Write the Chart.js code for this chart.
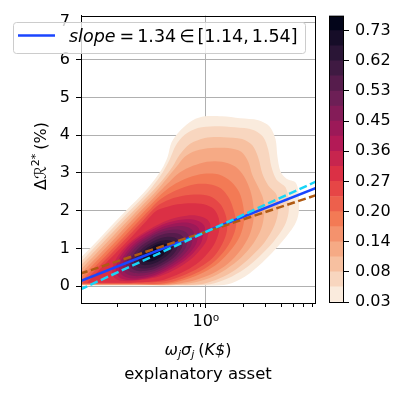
<!DOCTYPE html>
<html>
<head>
<meta charset="utf-8">
<script src="https://cdn.jsdelivr.net/npm/chart.js@4.4.1/dist/chart.umd.min.js"></script>
<style>
  html, body { margin: 0; padding: 0; background: #ffffff; }
  #wrap { position: relative; width: 408px; height: 395px; }
  #wrap canvas { position: absolute; left: 0; top: 0; }
</style>
</head>
<body>
<div id="wrap">
  <canvas id="kde" width="408" height="395"></canvas>
  <canvas id="cbar" width="408" height="395"></canvas>
</div>
<script>
// ---- values ----
const yTicks = [0, 1, 2, 3, 4, 5, 6, 7];
const xTicks = [0.2, 0.3, 0.4, 0.5, 0.6, 0.7, 0.8, 0.9, 1, 2, 3, 4, 5, 6, 7];
const xMajor = 1;

// colorbar labels (every other contour level)
const cbarLabels = ['0.03', '0.08', '0.14', '0.20', '0.27', '0.36', '0.45', '0.53', '0.62', '0.73'];
const nBands = 19;

// fitted lines, y at both ends of the x range
const fitX = [0.1, 7.45];
const fitBlue = [0.13, 2.60];
const fitBrown = [0.33, 2.41];
const fitCyan = [-0.09, 2.77];

// KDE contour outlines [x, y], outermost (0.03) -> innermost
const kde00 = [[0.0619,0.018],[0.0745,0.30],[0.100,0.73],[0.137,1.20],[0.193,1.73],[0.344,2.59],[0.445,3.09],[0.497,3.43],[0.535,3.82],[0.631,4.14],[0.787,4.40],[0.982,4.50],[1.34,4.50],[1.87,4.45],[2.61,4.40],[3.19,4.24],[3.57,3.90],[3.70,3.43],[3.91,3.04],[4.37,2.85],[5.15,2.75],[5.45,2.46],[5.45,1.94],[5.06,1.62],[3.91,1.13],[2.81,0.63],[2.05,0.26],[1.50,0.05],[1.08,0.018],[0.297,0.018]];
const kde01 = [[0.067,0.026],[0.080,0.29],[0.104,0.68],[0.123,0.94],[0.174,1.47],[0.247,1.99],[0.350,2.51],[0.437,2.93],[0.515,3.35],[0.575,3.72],[0.679,4.01],[0.863,4.19],[1.16,4.24],[1.71,4.21],[2.38,4.14],[2.86,3.95],[3.13,3.61],[3.31,3.17],[3.63,2.83],[4.29,2.62],[4.53,2.30],[4.53,1.94],[4.21,1.60],[3.44,1.18],[2.66,0.79],[2.01,0.45],[1.50,0.21],[1.08,0.05],[0.619,0.026],[0.205,0.026]];
const kde02 = [[0.072,0.031],[0.0856,0.29],[0.111,0.68],[0.132,0.94],[0.187,1.47],[0.265,1.99],[0.375,2.51],[0.461,2.85],[0.545,3.17],[0.619,3.48],[0.745,3.77],[0.982,3.93],[1.39,3.95],[1.94,3.90],[2.33,3.74],[2.61,3.40],[2.81,2.98],[3.13,2.67],[3.63,2.43],[3.77,2.04],[3.50,1.60],[2.91,1.15],[2.25,0.76],[1.74,0.45],[1.29,0.21],[0.895,0.05],[0.247,0.031]];
const kde03 = [[0.0776,0.037],[0.0915,0.29],[0.119,0.68],[0.168,1.20],[0.238,1.73],[0.337,2.25],[0.401,2.51],[0.488,2.85],[0.586,3.17],[0.679,3.43],[0.832,3.59],[1.10,3.66],[1.50,3.66],[1.91,3.56],[2.17,3.30],[2.33,2.96],[2.61,2.62],[2.86,2.30],[2.91,1.94],[2.75,1.52],[2.38,1.13],[1.91,0.76],[1.45,0.45],[1.06,0.21],[0.745,0.079],[0.429,0.037],[0.247,0.037]];
const kde04 = [[0.0836,0.045],[0.0984,0.29],[0.128,0.68],[0.181,1.20],[0.255,1.73],[0.362,2.25],[0.429,2.51],[0.515,2.77],[0.619,3.01],[0.787,3.19],[1.02,3.30],[1.34,3.30],[1.71,3.17],[2.01,2.91],[2.25,2.54],[2.38,2.15],[2.38,1.73],[2.21,1.34],[1.87,0.94],[1.50,0.60],[1.14,0.34],[0.817,0.16],[0.515,0.045],[0.247,0.045]];
const kde05 = [[0.0902,0.052],[0.106,0.29],[0.137,0.68],[0.194,1.20],[0.274,1.73],[0.388,2.25],[0.461,2.49],[0.575,2.72],[0.731,2.88],[0.964,2.98],[1.27,2.96],[1.59,2.77],[1.84,2.49],[1.98,2.12],[2.01,1.73],[1.87,1.34],[1.59,0.97],[1.27,0.63],[0.964,0.37],[0.692,0.18],[0.470,0.052],[0.247,0.052]];
const kde06 = [[0.0977,0.065],[0.113,0.29],[0.147,0.68],[0.208,1.20],[0.294,1.73],[0.350,1.99],[0.416,2.25],[0.497,2.43],[0.631,2.59],[0.817,2.70],[1.06,2.70],[1.32,2.59],[1.53,2.33],[1.67,1.99],[1.74,1.62],[1.61,1.26],[1.37,0.89],[1.10,0.58],[0.832,0.34],[0.597,0.16],[0.429,0.065],[0.247,0.065]];
const kde07 = [[0.105,0.079],[0.121,0.29],[0.157,0.68],[0.222,1.20],[0.315,1.73],[0.408,2.12],[0.515,2.30],[0.692,2.41],[0.895,2.43],[1.12,2.36],[1.32,2.15],[1.45,1.83],[1.47,1.47],[1.34,1.10],[1.14,0.76],[0.895,0.50],[0.667,0.29],[0.470,0.13],[0.247,0.079]];
const kde08 = [[0.114,0.092],[0.130,0.29],[0.168,0.68],[0.239,1.20],[0.337,1.73],[0.402,1.99],[0.479,2.09],[0.597,2.17],[0.773,2.20],[0.964,2.17],[1.16,2.04],[1.27,1.78],[1.27,1.44],[1.16,1.10],[0.982,0.79],[0.787,0.52],[0.597,0.31],[0.429,0.144],[0.247,0.092]];
const kde09 = [[1.07,1.69],[0.967,1.09],[0.555,0.42],[0.280,0.15],[0.185,0.25],[0.204,0.84],[0.357,1.51],[0.707,1.87]];
const kde10 = [[0.969,1.61],[0.886,1.07],[0.535,0.46],[0.287,0.17],[0.197,0.30],[0.215,0.85],[0.357,1.46],[0.664,1.77]];
const kde11 = [[0.879,1.53],[0.811,1.04],[0.515,0.49],[0.294,0.21],[0.209,0.35],[0.227,0.85],[0.357,1.39],[0.624,1.68]];
const kde12 = [[0.796,1.45],[0.743,1.01],[0.497,0.52],[0.301,0.27],[0.222,0.41],[0.238,0.85],[0.357,1.34],[0.587,1.59]];
const kde13 = [[0.722,1.37],[0.680,0.98],[0.479,0.55],[0.309,0.34],[0.236,0.46],[0.251,0.85],[0.357,1.28],[0.552,1.50]];
const kde14 = [[0.661,1.30],[0.630,0.96],[0.466,0.59],[0.320,0.40],[0.254,0.51],[0.267,0.85],[0.360,1.22],[0.524,1.41]];
const kde15 = [[0.605,1.22],[0.580,0.94],[0.451,0.63],[0.330,0.47],[0.272,0.56],[0.284,0.84],[0.365,1.15],[0.498,1.31]];
const kde16 = [[0.553,1.15],[0.534,0.93],[0.437,0.69],[0.340,0.56],[0.292,0.63],[0.303,0.85],[0.370,1.09],[0.474,1.22]];
const kde17 = [[0.498,1.07],[0.487,0.92],[0.423,0.74],[0.355,0.65],[0.319,0.71],[0.326,0.86],[0.375,1.04],[0.447,1.13]];
const kde18 = [[0.452,0.99],[0.445,0.91],[0.412,0.81],[0.372,0.76],[0.351,0.79],[0.356,0.87],[0.386,0.97],[0.426,1.02]];
const contours = [kde00, kde01, kde02, kde03, kde04, kde05, kde06, kde07, kde08, kde09,
                  kde10, kde11, kde12, kde13, kde14, kde15, kde16, kde17, kde18];

// ---- colours: seaborn "rocket", reversed ----
const rocketStops = [
  [0.000, [3, 5, 26]], [0.143, [53, 25, 62]], [0.286, [112, 31, 87]], [0.429, [173, 23, 89]],
  [0.571, [225, 51, 66]], [0.714, [243, 118, 81]], [0.857, [246, 180, 143]], [1.000, [250, 235, 221]]
];
function rocket(t) {
  for (let k = 1; k < rocketStops.length; k++) {
    const [t1, c1] = rocketStops[k];
    if (t <= t1) {
      const [t0, c0] = rocketStops[k - 1];
      const f = (t - t0) / (t1 - t0);
      const c = c0.map((v, j) => Math.round(v + f * (c1[j] - v)));
      return `rgb(${c[0]},${c[1]},${c[2]})`;
    }
  }
  return 'rgb(250,235,221)';
}
const bandColors = Array.from({ length: nBands }, (_, i) => rocket(1 - i / (nBands - 1)));

Chart.defaults.font.family = '"DejaVu Sans", sans-serif';
Chart.defaults.font.size = 16;
Chart.defaults.color = '#000';

const FONT = '"DejaVu Sans", sans-serif';

function drawPieces(ctx, pieces, x, y) {
  let cx = x;
  pieces.forEach(p => {
    ctx.font = p.font;
    ctx.fillText(p.t, cx, y + (p.dy || 0));
    cx += ctx.measureText(p.t).width + (p.gap || 0);
  });
}
function piecesWidth(ctx, pieces) {
  let w = 0;
  pieces.forEach(p => { ctx.font = p.font; w += ctx.measureText(p.t).width + (p.gap || 0); });
  return w;
}

const decorations = {
  id: 'decorations',
  afterDraw(chart) {
    const { ctx, chartArea: a } = chart;
    ctx.save();
    // full box around the axes
    ctx.strokeStyle = '#000';
    ctx.lineWidth = 1;
    ctx.strokeRect(Math.round(a.left) + 0.5, Math.round(a.top) + 0.5,
                   Math.round(a.right - a.left), Math.round(a.bottom - a.top));

    // legend
    ctx.beginPath();
    if (ctx.roundRect) ctx.roundRect(13.5, 22.5, 292, 31, 3); else ctx.rect(13.5, 22.5, 292, 31);
    ctx.fillStyle = 'rgba(255,255,255,0.8)';
    ctx.fill();
    ctx.strokeStyle = '#cccccc';
    ctx.stroke();
    ctx.beginPath();
    ctx.moveTo(18, 35.5); ctx.lineTo(55, 35.5);
    ctx.strokeStyle = '#1a45ff'; ctx.lineWidth = 2.5;
    ctx.stroke();
    ctx.fillStyle = '#000';
    ctx.textBaseline = 'alphabetic';
    const lf = `17.5px ${FONT}`, li = `italic 17.5px ${FONT}`;
    drawPieces(ctx, [
      { t: 'slope', font: li, gap: 4 }, { t: '=', font: lf, gap: 3 }, { t: '1.34', font: lf, gap: 3 },
      { t: '∈', font: lf, gap: 3 }, { t: '[1.14,', font: lf, gap: 3 }, { t: '1.54]', font: lf }
    ], 69, 42);

    // y title (rotated)
    const yt = [
      { t: 'Δℛ', font: `16px ${FONT}` },
      { t: '2*', font: `11px ${FONT}`, dy: -7, gap: 4 },
      { t: '(%)', font: `16px ${FONT}` }
    ];
    ctx.save();
    ctx.translate(46, 156);
    ctx.rotate(-Math.PI / 2);
    drawPieces(ctx, yt, -piecesWidth(ctx, yt) / 2, 0);
    ctx.restore();

    // x title, two lines
    const cx = (a.left + a.right) / 2;
    const sub = `italic 11px ${FONT}`;
    const xt = [
      { t: 'ω', font: `italic 16px ${FONT}` }, { t: 'j', font: sub, dy: 3 },
      { t: 'σ', font: `italic 16px ${FONT}` }, { t: 'j', font: sub, dy: 3, gap: 4 },
      { t: '(', font: `16px ${FONT}` }, { t: 'K$', font: `italic 16px ${FONT}` }, { t: ')', font: `16px ${FONT}` }
    ];
    drawPieces(ctx, xt, cx - piecesWidth(ctx, xt) / 2, 355);
    ctx.font = `16.5px ${FONT}`;
    ctx.textAlign = 'center';
    ctx.fillText('explanatory asset', cx, 379);
    ctx.restore();
  }
};

const kdeSets = contours.map((pts, i) => {
  const ring = i >= 9 ? pts.concat(pts.slice(0, 2)) : pts;
  return {
    data: ring.map(([x, y]) => ({ x, y })),
    fill: 'shape',
    backgroundColor: bandColors[i],
    borderColor: 'rgba(0,0,0,0)',
    borderWidth: 0,
    pointRadius: 0,
    tension: i >= 9 ? 0.4 : 0.3,
    capBezierPoints: false,
    order: 100 - i
  };
});

function fitLine(ys, color, dash, order) {
  return {
    data: fitX.map((x, k) => ({ x, y: ys[k] })),
    borderColor: color,
    borderWidth: 2.5,
    borderDash: dash,
    fill: false,
    pointRadius: 0,
    tension: 0,
    order
  };
}

new Chart(document.getElementById('kde'), {
  type: 'line',
  data: {
    datasets: kdeSets.concat([
      fitLine(fitBlue, '#1a45ff', [], 3),
      fitLine(fitBrown, '#b05a12', [8, 3.5], 2),
      fitLine(fitCyan, '#18d4f7', [8, 3.5], 1)
    ])
  },
  options: {
    responsive: false,
    animation: false,
    events: [],
    layout: { padding: { left: 0, right: 93, top: 12, bottom: 0 } },
    plugins: { legend: { display: false }, tooltip: { enabled: false } },
    scales: {
      x: {
        type: 'logarithmic',
        min: 0.102,
        max: 7.35,
        z: 1,
        afterBuildTicks: s => { s.ticks = xTicks.map(v => ({ value: v })); },
        afterFit: s => { s.height = 92; },
        ticks: {
          autoSkip: false, maxRotation: 0, padding: 4, color: '#000',
          callback: v => (v === xMajor ? '10⁰' : '')
        },
        grid: {
          color: c => (c.tick && c.tick.value === xMajor ? '#b0b0b0' : 'rgba(0,0,0,0)'),
          lineWidth: 1,
          tickColor: '#000',
          tickLength: 5,
          tickBorderDash: c => (c.tick && c.tick.value === xMajor ? [] : [3, 10])
        },
        border: { color: '#000', width: 1 }
      },
      y: {
        type: 'linear',
        min: -0.445,
        max: 7.17,
        z: 1,
        afterBuildTicks: s => { s.ticks = yTicks.map(v => ({ value: v })); },
        afterFit: s => { s.width = 81; },
        ticks: { padding: 6, color: '#000' },
        grid: { color: '#b0b0b0', lineWidth: 1, tickColor: '#000', tickLength: 5 },
        border: { color: '#000', width: 1 }
      }
    }
  },
  plugins: [decorations]
});

// ---- colorbar ----
const outline = {
  id: 'outline',
  afterDraw(chart) {
    const { ctx, chartArea: a } = chart;
    ctx.save();
    ctx.strokeStyle = '#000';
    ctx.lineWidth = 1;
    ctx.strokeRect(Math.round(a.left) + 0.5, Math.round(a.top) + 0.5,
                   Math.round(a.right - a.left) - 1, Math.round(a.bottom - a.top));
    ctx.restore();
  }
};

new Chart(document.getElementById('cbar'), {
  type: 'bar',
  data: {
    labels: [''],
    datasets: bandColors.map(c => ({
      data: [1], backgroundColor: c, borderWidth: 0, barPercentage: 1, categoryPercentage: 1
    }))
  },
  options: {
    responsive: false,
    animation: false,
    events: [],
    layout: { padding: { left: 329, right: 0, top: 12, bottom: 93 } },
    plugins: { legend: { display: false }, tooltip: { enabled: false } },
    scales: {
      x: { stacked: true, display: false },
      y: {
        stacked: true,
        position: 'right',
        min: 0,
        max: nBands,
        afterBuildTicks: s => { s.ticks = cbarLabels.map((_, i) => ({ value: 2 * i })); },
        afterFit: s => { s.width = 64; },
        ticks: { padding: 6, color: '#000', callback: v => cbarLabels[Math.round(v / 2)] },
        grid: { drawOnChartArea: false, tickColor: '#000', tickLength: 5 },
        border: { display: false }
      }
    }
  },
  plugins: [outline]
});
</script>
</body>
</html>
